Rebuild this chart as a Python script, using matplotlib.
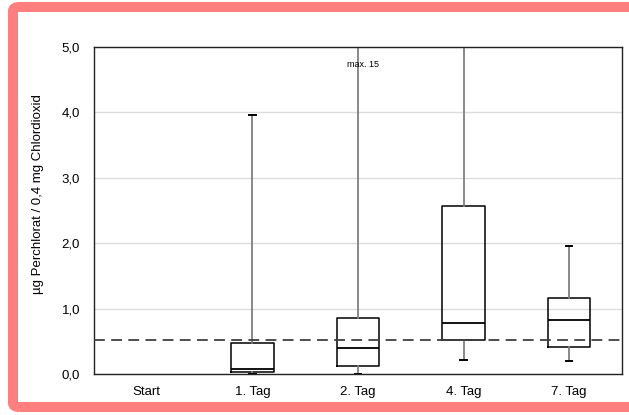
import numpy as np
import matplotlib.pyplot as plt
from matplotlib.patches import FancyBboxPatch

plt.rcParams['font.family'] = ['Liberation Sans', 'DejaVu Sans']

# categories and box statistics
categories = ['Start', '1. Tag', '2. Tag', '4. Tag', '7. Tag']
box_labels = ['1. Tag', '2. Tag', '4. Tag', '7. Tag']
whis_lo = [0.0, 0.0, 0.22, 0.20]
q1 = [0.03, 0.12, 0.52, 0.42]
med = [0.07, 0.40, 0.78, 0.83]
q3 = [0.48, 0.85, 2.57, 1.16]
whis_hi = [3.96, 15.0, 6.0, 1.96]
ref_level = 0.52
max_note = 'max. 15'

fig = plt.figure(figsize=(6.29, 4.15), dpi=100)
ax = fig.add_axes([0.1494, 0.0988, 0.8395, 0.7879])

stats = []
for i in range(len(box_labels)):
    stats.append(dict(label=box_labels[i], whislo=whis_lo[i], q1=q1[i], med=med[i],
                      q3=q3[i], whishi=whis_hi[i], fliers=[]))

pos = [categories.index(l) for l in box_labels]
ax.bxp(stats, positions=pos, widths=0.4, showfliers=False,
       boxprops=dict(color='black', linewidth=1.1),
       medianprops=dict(color='black', linewidth=1.3),
       whiskerprops=dict(color='#7f7f7f', linewidth=1.3),
       capprops=dict(color='black', linewidth=1.4),
       capwidths=0.06)

ax.axhline(ref_level, color='#404040', linewidth=1.3, dashes=(6, 3.5), zorder=3)
ax.text(2.05, 4.74, max_note, ha='center', va='center', fontsize=6.5)

ax.set_xlim(-0.5, 4.5)
ax.set_ylim(0, 5)
ax.set_xticks(range(len(categories)))
ax.set_xticklabels(categories)
yt = np.arange(0, 5.01, 1.0)
ax.set_yticks(yt)
ax.set_yticklabels([f'{v:.1f}'.replace('.', ',') for v in yt])
ax.tick_params(axis='both', length=0, labelsize=9.5)
ax.tick_params(axis='y', pad=10)
ax.tick_params(axis='x', pad=9)
ax.yaxis.grid(True, color='#dcdcdc', linewidth=1)
ax.set_axisbelow(True)
for s in ax.spines.values():
    s.set_color('#222222')
    s.set_linewidth(1)

fig.text(38 / 629, 1 - 194 / 415, 'µg Perchlorat / 0,4 mg Chlordioxid',
         rotation=90, ha='center', va='center', fontsize=9.5)

# pink frame around the chart
frame = FancyBboxPatch((13 / 629, 8 / 415), 640 / 629, 400 / 415,
                       boxstyle='round,pad=0,rounding_size=0.01',
                       transform=fig.transFigure, fill=False,
                       edgecolor='#ff7f7f', linewidth=7.2, clip_on=False,
                       zorder=-1)
fig.patches.append(frame)

fig.savefig('out.png', dpi=100)
